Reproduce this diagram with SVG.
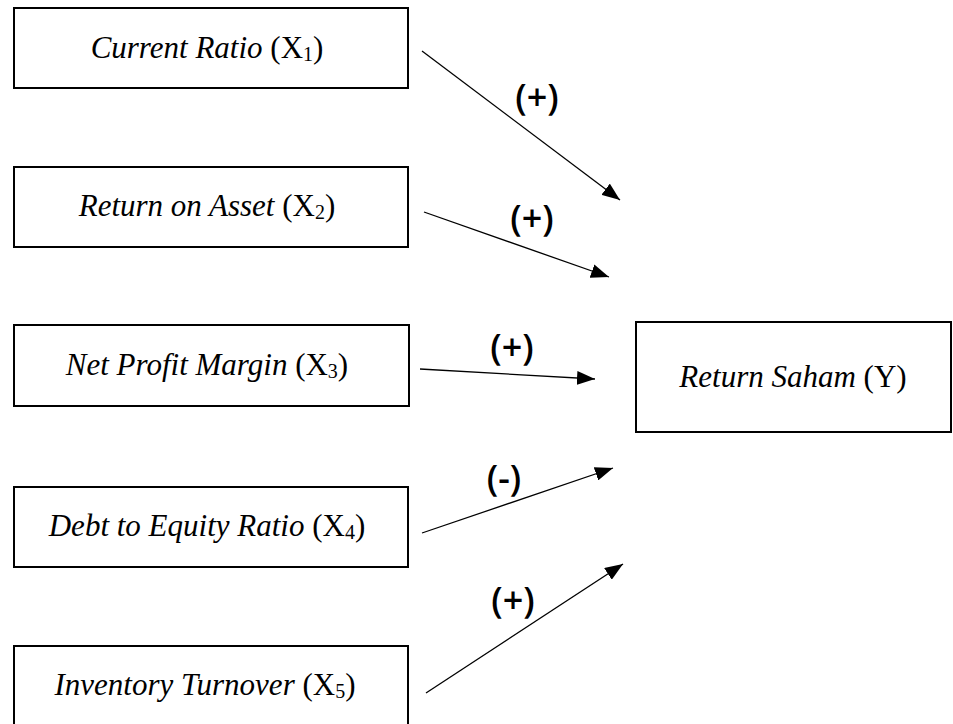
<svg xmlns="http://www.w3.org/2000/svg" width="953" height="724" viewBox="0 0 953 724">
<style>
.box{fill:#fff;stroke:#000;stroke-width:2}
.t{font-family:"Liberation Serif","Times New Roman",serif;font-size:31px;fill:#000;text-anchor:middle}
.i{font-style:italic}
.sub{font-size:20px}
.lbl{font-family:"Open Sans","Liberation Sans",sans-serif;font-size:36px;font-weight:600;fill:#000;text-anchor:middle}
.con{stroke:#000;stroke-width:1.3;fill:none;marker-end:url(#ah)}
</style>
<defs>
<marker id="ah" viewBox="0 0 18 14" refX="18" refY="7" markerWidth="18" markerHeight="14" markerUnits="userSpaceOnUse" orient="auto">
<path d="M0,0 L18,7 L0,14 z" fill="#000"/>
</marker>
</defs>
<rect width="953" height="724" fill="#fff"/>
<g id="x1">
<rect class="box" x="14" y="8" width="394" height="80"/>
<text class="t" x="207" y="58"><tspan class="i">Current Ratio</tspan> (X<tspan class="sub" dy="3">1</tspan><tspan dy="-3">)</tspan></text>
</g>
<g id="x2">
<rect class="box" x="14" y="167" width="394" height="80"/>
<text class="t" x="207" y="216"><tspan class="i">Return on Asset</tspan> (X<tspan class="sub" dy="3">2</tspan><tspan dy="-3">)</tspan></text>
</g>
<g id="x3">
<rect class="box" x="14" y="325" width="395" height="81"/>
<text class="t" x="207" y="375"><tspan class="i">Net Profit Margin</tspan> (X<tspan class="sub" dy="3">3</tspan><tspan dy="-3">)</tspan></text>
</g>
<g id="x4">
<rect class="box" x="14" y="487" width="394" height="80"/>
<text class="t" x="207" y="536"><tspan class="i">Debt to Equity Ratio</tspan> (X<tspan class="sub" dy="3">4</tspan><tspan dy="-3">)</tspan></text>
</g>
<g id="x5">
<rect class="box" x="14" y="646" width="394" height="82"/>
<text class="t" x="205" y="695"><tspan class="i">Inventory Turnover</tspan> (X<tspan class="sub" dy="3">5</tspan><tspan dy="-3">)</tspan></text>
</g>
<g id="y">
<rect class="box" x="636" y="322" width="315" height="110"/>
<text class="t" x="793" y="387"><tspan class="i">Return Saham</tspan> (Y)</text>
</g>
<g id="connectors">
<line class="con" x1="422" y1="51" x2="620" y2="200"/>
<line class="con" x1="424" y1="212" x2="609" y2="277"/>
<line class="con" x1="420" y1="369" x2="595" y2="379"/>
<line class="con" x1="422" y1="533" x2="613" y2="468"/>
<line class="con" x1="426" y1="693" x2="623" y2="564"/>
<text class="lbl" x="537" y="110">(+)</text>
<text class="lbl" x="532" y="231">(+)</text>
<text class="lbl" x="512" y="360">(+)</text>
<text class="lbl" x="504" y="491">(-)</text>
<text class="lbl" x="513" y="613">(+)</text>
</g>
</svg>
